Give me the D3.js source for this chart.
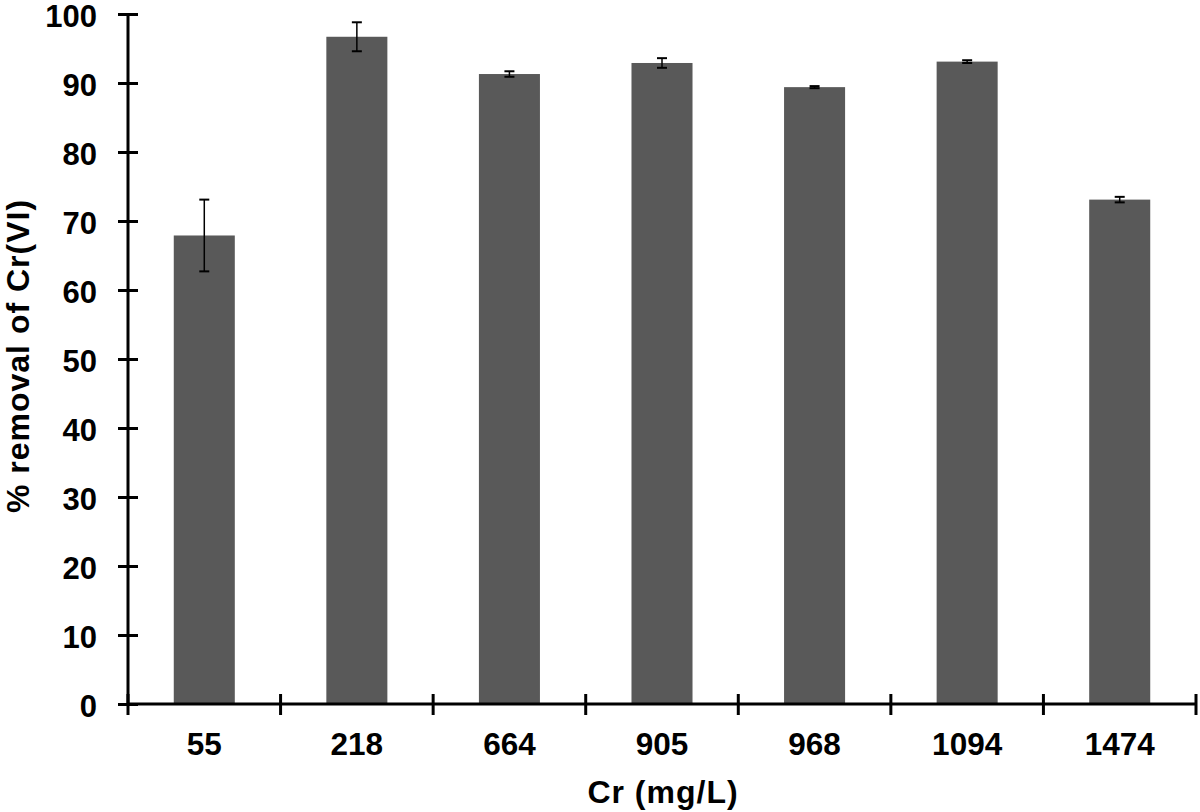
<!DOCTYPE html>
<html>
<head>
<meta charset="utf-8">
<script src="https://cdn.jsdelivr.net/npm/d3@7"></script>
<style>
  html, body { margin: 0; padding: 0; background: #fff; }
  svg { display: block; }
  text { font-family: "Liberation Sans", Arial, sans-serif; font-weight: bold; fill: #000; }
</style>
</head>
<body>
<svg id="chart" width="1200" height="812"></svg>
<script>
const categories = ["55", "218", "664", "905", "968", "1094", "1474"];
const removal = [67.9, 96.7, 91.3, 92.9, 89.4, 93.1, 73.1];
const errors = [5.2, 2.1, 0.4, 0.7, 0.15, 0.2, 0.4];
const yTicks = [0, 10, 20, 30, 40, 50, 60, 70, 80, 90, 100];

(function () {
const svg = d3.select("#chart");
const mLeft = 128, mRight = 1196, mTop = 14, mBottom = 704;

const x = d3.scaleBand().domain(categories).range([mLeft, mRight]).paddingInner(0.6).paddingOuter(0.3);
const xEdges = d3.scaleLinear().domain([0, categories.length]).range([mLeft, mRight]);
const y = d3.scaleLinear().domain([0, 100]).range([mBottom, mTop]);

// bars
svg.append("g").selectAll("rect").data(categories).join("rect")
  .attr("x", d => x(d))
  .attr("width", x.bandwidth())
  .attr("y", (d, i) => y(removal[i]))
  .attr("height", (d, i) => y(0) - y(removal[i]))
  .attr("fill", "#595959");

// error bars
const eb = svg.append("g").attr("stroke", "#000").attr("stroke-width", 1.5);
categories.forEach((c, i) => {
  const cx = x(c) + x.bandwidth() / 2;
  const y1 = y(removal[i] + errors[i]), y2 = y(removal[i] - errors[i]);
  eb.append("line").attr("x1", cx).attr("x2", cx).attr("y1", y1).attr("y2", y2);
  eb.append("line").attr("x1", cx - 5).attr("x2", cx + 5).attr("y1", y1).attr("y2", y1).attr("stroke-width", 2);
  eb.append("line").attr("x1", cx - 5).attr("x2", cx + 5).attr("y1", y2).attr("y2", y2).attr("stroke-width", 2);
});

// y axis
const yAxis = svg.append("g").attr("transform", `translate(${mLeft},0)`)
  .call(d3.axisLeft(y).tickValues(yTicks).tickSize(10).tickPadding(21));
yAxis.select(".domain").attr("stroke", "#000").attr("stroke-width", 3).attr("d", `M0,${mBottom}V${mTop}`);
yAxis.selectAll(".tick line").attr("stroke", "#000").attr("stroke-width", 3).attr("x1", 10).attr("x2", -10);
yAxis.selectAll(".tick text").style("font-size", "31px").style("font-family", '"Liberation Sans", Arial, sans-serif').style("font-weight", "bold").attr("dy", "0.41em");

// x axis
const xAxis = svg.append("g").attr("transform", `translate(0,${mBottom})`)
  .call(d3.axisBottom(x).tickSize(0).tickPadding(29));
xAxis.select(".domain").attr("stroke", "#000").attr("stroke-width", 3).attr("d", `M${mLeft},0H${mRight}`);
xAxis.selectAll(".tick text").style("font-size", "31.5px").style("font-family", '"Liberation Sans", Arial, sans-serif').style("font-weight", "bold");
xAxis.append("g").selectAll("line").data(d3.range(categories.length + 1)).join("line")
  .attr("x1", d => xEdges(d)).attr("x2", d => xEdges(d))
  .attr("y1", -10).attr("y2", 11)
  .attr("stroke", "#000").attr("stroke-width", 3);

// axis titles
svg.append("text").attr("x", (mLeft + mRight) / 2 + 1).attr("y", 803)
  .attr("text-anchor", "middle").style("font-size", "32px").style("letter-spacing", "1px").text("Cr (mg/L)");
svg.append("text").attr("transform", `translate(29,356) rotate(-90)`)
  .attr("text-anchor", "middle").style("font-size", "32px").style("letter-spacing", "1px").text("% removal of Cr(VI)");
})();
</script>
</body>
</html>
